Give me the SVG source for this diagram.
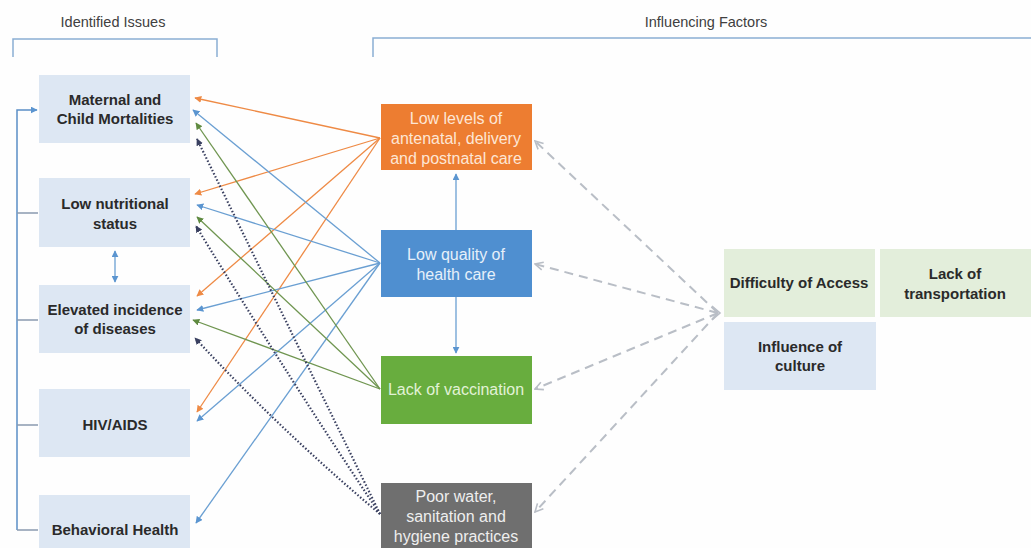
<svg xmlns="http://www.w3.org/2000/svg" width="1031" height="548" viewBox="0 0 1031 548">
<style>
.hdr{font-family:"Liberation Sans",Arial,sans-serif;font-size:14.5px;fill:#404040;text-anchor:middle}
.lt{font-family:"Liberation Sans",Arial,sans-serif;font-size:15px;font-weight:bold;fill:#2a2a2a;text-anchor:middle}
.mt{font-family:"Liberation Sans",Arial,sans-serif;font-size:16px;text-anchor:middle}
.lbox{fill:#dde7f3}
.gbox{fill:#e3eedb}
.bk{fill:none;stroke:#8aaed4;stroke-width:1.5}
.o{fill:none;stroke:#ee8a45;stroke-width:1.3;marker-end:url(#ao)}
.b{fill:none;stroke:#6a9fd2;stroke-width:1.3;marker-end:url(#ab)}
.g{fill:none;stroke:#6f9550;stroke-width:1.3;marker-end:url(#ag)}
.d{fill:none;stroke:#3a4060;stroke-width:2.2;stroke-dasharray:1.5,2;marker-end:url(#ad)}
.ds{fill:none;stroke:#b9bec6;stroke-width:2;stroke-dasharray:9,6;marker-end:url(#ac)}
</style>
<defs>
<marker id="ao" viewBox="0 0 10 10" refX="9" refY="5" markerWidth="7" markerHeight="7" markerUnits="userSpaceOnUse" orient="auto"><path d="M0,0L10,5L0,10z" fill="#ee8a45"/></marker>
<marker id="ab" viewBox="0 0 10 10" refX="9" refY="5" markerWidth="7" markerHeight="7" markerUnits="userSpaceOnUse" orient="auto-start-reverse"><path d="M0,0L10,5L0,10z" fill="#5b95d0"/></marker>
<marker id="ag" viewBox="0 0 10 10" refX="9" refY="5" markerWidth="7" markerHeight="7" markerUnits="userSpaceOnUse" orient="auto"><path d="M0,0L10,5L0,10z" fill="#5f8a40"/></marker>
<marker id="ad" viewBox="0 0 10 10" refX="9" refY="5" markerWidth="7" markerHeight="7" markerUnits="userSpaceOnUse" orient="auto"><path d="M0,0L10,5L0,10z" fill="#3a4060"/></marker>
<marker id="ac" viewBox="0 0 10 10" refX="9" refY="5" markerWidth="10" markerHeight="10" markerUnits="userSpaceOnUse" orient="auto"><path d="M1,1L9,5L1,9" fill="none" stroke="#b9bec6" stroke-width="1.6"/></marker>
</defs>
<rect width="1031" height="548" fill="#fefefe"/>

<g id="headers">
<text class="hdr" x="113" y="27">Identified Issues</text>
<path class="bk" d="M13,57V39H217V57"/>
<text class="hdr" x="706" y="27">Influencing Factors</text>
<path class="bk" d="M373,57V38H1031"/>
</g>

<g id="maternal"><rect class="lbox" x="39" y="75" width="151" height="68"/><text class="lt" x="115" y="105">Maternal and</text><text class="lt" x="115" y="124">Child Mortalities</text></g>
<g id="nutrition"><rect class="lbox" x="39" y="178" width="151" height="69"/><text class="lt" x="115" y="209">Low nutritional</text><text class="lt" x="115" y="229">status</text></g>
<g id="diseases"><rect class="lbox" x="39" y="285" width="151" height="68"/><text class="lt" x="115" y="315">Elevated incidence</text><text class="lt" x="115" y="334">of diseases</text></g>
<g id="hiv"><rect class="lbox" x="39" y="389" width="151" height="68"/><text class="lt" x="115" y="430">HIV/AIDS</text></g>
<g id="behavioral"><rect class="lbox" x="39" y="495" width="151" height="60"/><text class="lt" x="115" y="535">Behavioral Health</text></g>

<g id="antenatal"><rect x="381" y="104" width="151" height="66" fill="#ed7d31"/><text class="mt" fill="#fde6d5" x="456" y="124">Low levels of</text><text class="mt" fill="#fde6d5" x="456" y="144">antenatal, delivery</text><text class="mt" fill="#fde6d5" x="456" y="164">and postnatal care</text></g>
<g id="quality"><rect x="381" y="230" width="151" height="67" fill="#4f8fd0"/><text class="mt" fill="#e6f0fa" x="456" y="260">Low quality of</text><text class="mt" fill="#e6f0fa" x="456" y="280">health care</text></g>
<g id="vaccination"><rect x="381" y="356" width="151" height="68" fill="#68ad3e"/><text class="mt" fill="#e2f2d6" x="456" y="395">Lack of vaccination</text></g>
<g id="water"><rect x="381" y="483" width="151" height="70" fill="#6f6f6f"/><text class="mt" fill="#eeeeee" x="456" y="502">Poor water,</text><text class="mt" fill="#eeeeee" x="456" y="522">sanitation and</text><text class="mt" fill="#eeeeee" x="456" y="542">hygiene practices</text></g>

<g id="access"><rect class="gbox" x="724" y="249" width="151" height="68"/><text class="lt" x="799" y="288">Difficulty of Access</text></g>
<g id="transport"><rect class="gbox" x="880" y="249" width="155" height="68"/><text class="lt" x="955" y="279">Lack of</text><text class="lt" x="955" y="299">transportation</text></g>
<g id="culture"><rect class="lbox" x="724" y="322" width="152" height="68"/><text class="lt" x="800" y="352">Influence of</text><text class="lt" x="800" y="371">culture</text></g>

<g id="connectors">
<path d="M17,530V110H37" fill="none" stroke="#5b8fc6" stroke-width="1.5" marker-end="url(#ab)"/>
<path d="M17,213H38M17,320H38M17,425H38M17,530H38" fill="none" stroke="#8a9bb0" stroke-width="1.3"/>
<path d="M115,251V282" fill="none" stroke="#6a9fd2" stroke-width="1.3" marker-start="url(#ab)" marker-end="url(#ab)"/>
<path d="M456,230V174" class="b"/>
<path d="M456,297V353" class="b"/>

<path class="o" d="M380,138L195,98"/>
<path class="o" d="M380,138L195,194"/>
<path class="o" d="M380,138L197,296"/>
<path class="o" d="M380,138L197,412"/>

<path class="b" d="M380,263L193,110"/>
<path class="b" d="M380,263L197,205"/>
<path class="b" d="M380,263L197,310"/>
<path class="b" d="M380,263L197,421"/>
<path class="b" d="M380,263L196,523"/>

<path class="g" d="M380,389L196,123"/>
<path class="g" d="M380,389L197,217"/>
<path class="g" d="M380,389L193,320"/>

<path class="d" d="M380,514Q300,350 197,139"/>
<path class="d" d="M380,514Q290,380 196,226"/>
<path class="d" d="M380,514Q280,430 195,338"/>

<path class="ds" d="M718,313L535,141"/>
<path class="ds" d="M718,313L535,264"/>
<path class="ds" d="M718,313L535,389"/>
<path class="ds" d="M718,313L535,512"/>
<path d="M712,306L720,313L712,320" fill="none" stroke="#b9bec6" stroke-width="1.6"/>
</g>
</svg>
